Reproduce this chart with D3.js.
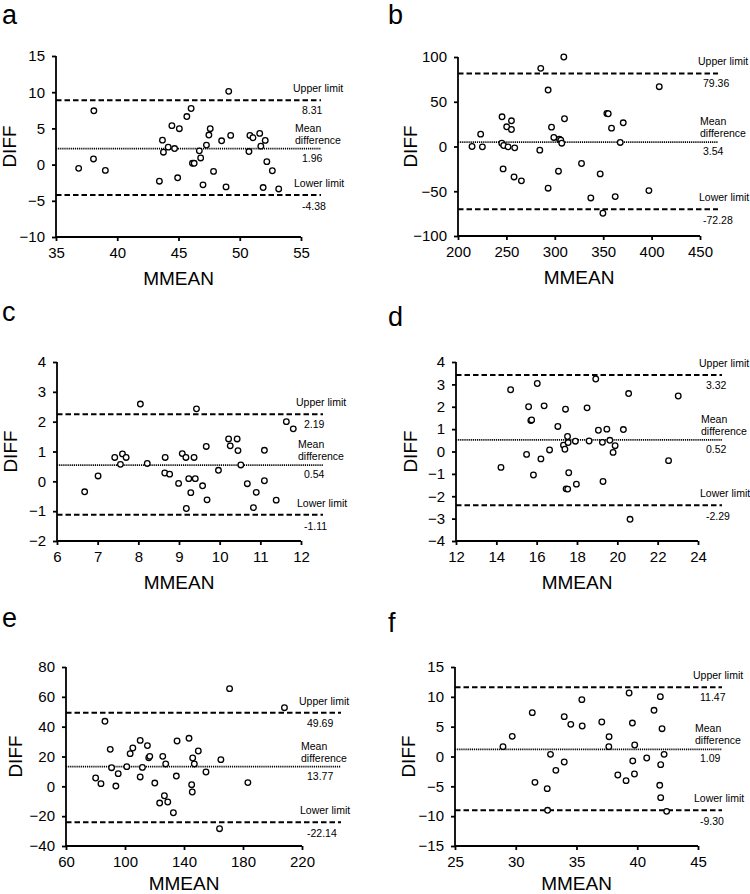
<!DOCTYPE html>
<html>
<head>
<meta charset="utf-8">
<script src="https://cdn.jsdelivr.net/npm/d3@7"></script>
<style>
  html, body { margin: 0; padding: 0; background: #fff; }
  svg { display: block; }
  text { font-family: "Liberation Sans", Arial, sans-serif; fill: #000; }
</style>
</head>
<body>
<svg id="chart" width="750" height="894"></svg>
<script>
// ---------- data ----------
const panelLetters = ["a", "b", "c", "d", "e", "f"];
const xTitle = "MMEAN";
const yTitle = "DIFF";
const limitTitles = ["Upper limit", "Mean", "difference", "Lower limit"];

// panel a
const aMean = [36.85, 38.09, 38.06, 39.03, 43.44, 43.69, 43.77, 44.16, 44.46, 44.68, 44.93, 45.07, 45.68, 46.03, 46.14, 46.28, 46.70, 46.81, 47.0, 47.28, 47.48, 47.59, 47.86, 48.52, 48.88, 49.10, 49.26, 50.75, 50.83, 51.08, 51.63, 51.72, 51.91, 52.08, 52.21, 52.66, 53.18];
const aDiff = [-0.52, 7.43, 0.78, -0.80, -2.29, 3.38, 1.71, 2.41, 5.38, 2.22, -1.82, 4.96, 6.64, 7.75, 0.18, 0.18, 1.90, 0.92, -2.80, 2.69, 4.08, 4.96, -0.94, 3.29, -3.08, 10.12, 4.03, 1.80, 4.03, 3.71, 4.31, 2.55, -3.17, 3.34, 0.41, -0.85, -3.36];
const aLimits = [8.9, 2.2, -4.2];
const aLimitLabels = ["8.31", "1.96", "-4.38"];
const aXTicks = [35, 40, 45, 50, 55];
const aYTicks = [-10, -5, 0, 5, 10, 15];

// panel b
const bMean = [214.5, 223.4, 225.2, 245.5, 245.2, 246.6, 247.2, 250.3, 251.7, 255.2, 255.2, 257.9, 258.6, 265.5, 284.5, 285.5, 293.1, 293.1, 296.6, 299.0, 303.8, 304.8, 306.2, 307.2, 309.3, 310.0, 327.6, 337.2, 346.9, 349.7, 353.8, 355.2, 358.6, 362.4, 367.6, 370.7, 397.2, 407.9];
const bDiff = [0.0, 13.8, -0.4, 33.2, 3.7, -25.0, 1.1, 22.0, -0.4, 28.7, 19.0, -34.0, -1.5, -38.4, -4.1, 87.3, 63.1, -46.6, 21.6, 10.1, -27.6, 8.2, 7.1, 3.7, 100, 31.0, -19.0, -57.5, -30.6, -74.6, 36.9, 36.6, 20.5, -56.0, 4.5, 26.5, -49.3, 66.8];
const bLimits = [81.6, 4.8, -70.1];
const bLimitLabels = ["79.36", "3.54", "-72.28"];
const bXTicks = [200, 250, 300, 350, 400, 450];
const bYTicks = [-100, -50, 0, 50, 100];

// panel c
const cMean = [6.68, 7.01, 7.42, 7.56, 7.61, 7.70, 8.05, 8.22, 8.66, 8.65, 8.77, 8.99, 9.08, 9.17, 9.18, 9.24, 9.29, 9.37, 9.40, 9.43, 9.58, 9.67, 9.69, 9.97, 10.22, 10.26, 10.43, 10.45, 10.52, 10.68, 10.83, 10.90, 11.10, 11.10, 11.39, 11.64, 11.81];
const cDiff = [-0.35, 0.18, 0.80, 0.57, 0.92, 0.80, 2.59, 0.60, 0.80, 0.28, 0.24, -0.07, 0.93, 0.80, -0.91, 0.09, -0.38, 0.80, 0.09, 2.43, -0.15, 1.17, -0.62, 0.37, 1.42, 1.19, 1.42, 1.03, 0.55, -0.08, -0.88, -0.37, 1.04, 0.02, -0.63, 2.00, 1.76];
const cLimits = [2.25, 0.54, -1.12];
const cLimitLabels = ["2.19", "0.54", "-1.11"];
const cXTicks = [6, 7, 8, 9, 10, 11, 12];
const cYTicks = [-2, -1, 0, 1, 2, 3, 4];

// panel d
const dMean = [14.23, 14.71, 15.50, 15.60, 15.71, 15.75, 15.84, 16.03, 16.21, 16.37, 16.64, 17.05, 17.33, 17.40, 17.43, 17.46, 17.54, 17.53, 17.56, 17.59, 17.92, 17.97, 18.50, 18.60, 18.93, 19.06, 19.26, 19.29, 19.48, 19.63, 19.79, 19.89, 20.30, 20.56, 20.63, 22.54, 23.02];
const dDiff = [-0.71, 2.76, -0.13, 2.00, 1.38, 1.41, -1.05, 3.04, -0.33, 2.04, 0.07, 1.12, 0.28, 0.10, 1.89, -1.67, -1.68, 0.67, 0.40, -0.95, 0.46, -1.46, 1.95, 0.47, 3.24, 0.95, 0.41, -1.34, 1.00, 0.50, -0.04, 0.26, 0.98, 2.59, -3.03, -0.41, 2.48];
const dLimits = [3.42, 0.52, -2.40];
const dLimitLabels = ["3.32", "0.52", "-2.29"];
const dXTicks = [12, 14, 16, 18, 20, 22, 24];
const dYTicks = [-4, -3, -2, -1, 0, 1, 2, 3, 4];

// panel e
const eMean = [80.1, 83.7, 86.4, 90.0, 90.9, 93.8, 95.4, 101.2, 103.5, 105.3, 110.3, 110.3, 111.8, 115.2, 116.1, 116.8, 120.2, 123.5, 125.6, 126.7, 127.6, 129.0, 132.8, 134.8, 135.3, 143.4, 145.2, 145.6, 145.9, 147.0, 149.7, 154.9, 164.1, 165.0, 170.9, 183.3, 208.1];
const eDiff = [5.6, 1.8, 43.6, 24.8, 12.5, 0.2, 8.5, 13.2, 21.9, 25.7, 6.3, 30.8, 12.7, 27.3, 19.2, 20.1, 2.2, -11.2, 20.1, -6.3, 15.0, -10.5, -17.7, 6.9, 30.4, 32.2, 1.1, -3.8, 19.0, 15.0, 23.7, 9.6, -28.4, 17.9, 65.5, 2.5, 52.7];
const eLimits = [49.4, 13.2, -24.1];
const eLimitLabels = ["49.69", "13.77", "-22.14"];
const eXTicks = [60, 100, 140, 180, 220];
const eYTicks = [-40, -20, 0, 20, 40, 60, 80];

// panel f
const fMean = [28.95, 29.71, 31.36, 31.58, 32.59, 32.62, 32.86, 33.30, 33.99, 33.99, 34.53, 35.44, 35.47, 37.08, 37.68, 37.66, 38.40, 39.08, 39.33, 39.60, 39.63, 39.77, 39.79, 40.78, 41.38, 41.85, 41.90, 41.93, 41.93, 42.04, 42.21, 42.42];
const fDiff = [1.65, 3.38, 7.35, -4.33, -5.39, -9.02, 0.36, -2.32, 6.68, -0.92, 5.39, 9.53, 5.11, 5.78, 3.32, 1.65, -3.10, -4.05, 10.64, 5.61, -0.75, -2.93, 1.93, -0.25, 7.74, -4.83, 10.03, -1.37, -6.90, 4.66, 0.36, -9.19];
const fLimits = [11.6, 1.2, -9.0];
const fLimitLabels = ["11.47", "1.09", "-9.30"];
const fXTicks = [25, 30, 35, 40, 45];
const fYTicks = [-15, -10, -5, 0, 5, 10, 15];

// ---------- layout (pixels) ----------
const panels = [
  { letter: panelLetters[0], mean: aMean, diff: aDiff, limits: aLimits, labels: aLimitLabels, xt: aXTicks, yt: aYTicks,
    L: 56, R: 301, T: 56, B: 237, lineEnd: 321, titleX: 293, numX: 302, letterX: 2, letterY: 24, yTitleOff: 47, xTitleOff: 48 },
  { letter: panelLetters[1], mean: bMean, diff: bDiff, limits: bLimits, labels: bLimitLabels, xt: bXTicks, yt: bYTicks,
    L: 458, R: 700, T: 57, B: 236, lineEnd: 718, titleX: 698, numX: 703, letterX: 388, letterY: 24, yTitleOff: 48, xTitleOff: 48 },
  { letter: panelLetters[2], mean: cMean, diff: cDiff, limits: cLimits, labels: cLimitLabels, xt: cXTicks, yt: cYTicks,
    L: 57, R: 301, T: 362, B: 541, lineEnd: 323, titleX: 296, numX: 304, letterX: 2, letterY: 321, yTitleOff: 47, xTitleOff: 48 },
  { letter: panelLetters[3], mean: dMean, diff: dDiff, limits: dLimits, labels: dLimitLabels, xt: dXTicks, yt: dYTicks,
    L: 456, R: 698, T: 362, B: 541, lineEnd: 722, titleX: 699, numX: 706, letterX: 388, letterY: 326, yTitleOff: 46, xTitleOff: 48 },
  { letter: panelLetters[4], mean: eMean, diff: eDiff, limits: eLimits, labels: eLimitLabels, xt: eXTicks, yt: eYTicks,
    L: 66, R: 302, T: 667, B: 846, lineEnd: 341, titleX: 299, numX: 307, letterX: 2, letterY: 627, yTitleOff: 51, xTitleOff: 44 },
  { letter: panelLetters[5], mean: fMean, diff: fDiff, limits: fLimits, labels: fLimitLabels, xt: fXTicks, yt: fYTicks,
    L: 455, R: 698, T: 667, B: 846, lineEnd: 722, titleX: 693, numX: 700, letterX: 388, letterY: 632, yTitleOff: 47, xTitleOff: 44 }
];

const svg = d3.select("#chart");

panels.forEach(p => {
  const x = d3.scaleLinear().domain([p.xt[0], p.xt[p.xt.length - 1]]).range([p.L, p.R]);
  const y = d3.scaleLinear().domain([p.yt[0], p.yt[p.yt.length - 1]]).range([p.B, p.T]);
  const g = svg.append("g");

  // panel letter
  g.append("text").attr("x", p.letterX).attr("y", p.letterY)
    .attr("font-size", 27).text(p.letter);

  // axes
  const xAxis = d3.axisBottom(x).tickValues(p.xt).tickSize(4).tickPadding(6).tickFormat(d3.format("d"));
  const yAxis = d3.axisLeft(y).tickValues(p.yt).tickSize(4).tickPadding(7).tickFormat(d3.format("d"));
  const gx = g.append("g").attr("transform", `translate(0,${p.B})`).call(xAxis);
  const gy = g.append("g").attr("transform", `translate(${p.L},0)`).call(yAxis);
  [gx, gy].forEach(ax => {
    ax.select(".domain").attr("stroke", "#000").attr("stroke-width", 1.8);
    ax.selectAll(".tick line").attr("stroke", "#000").attr("stroke-width", 1.8);
    ax.selectAll(".tick text").attr("font-size", 15).attr("font-family", "'Liberation Sans', Arial, sans-serif").attr("fill", "#000");
  });
  gx.select(".domain").attr("d", `M${p.L},0H${p.R}`);
  gy.select(".domain").attr("d", `M0,${p.B}V${p.T}`);

  // axis titles
  g.append("text").attr("x", (p.L + p.R) / 2).attr("y", p.B + p.xTitleOff)
    .attr("text-anchor", "middle").attr("font-size", 19).text(xTitle);
  g.append("text")
    .attr("transform", `translate(${p.L - p.yTitleOff},${(p.T + p.B) / 2}) rotate(-90)`)
    .attr("text-anchor", "middle").attr("dominant-baseline", "central")
    .attr("font-size", 19).text(yTitle);

  // limit lines
  p.limits.forEach((v, i) => {
    g.append("line")
      .attr("x1", p.L).attr("x2", p.lineEnd)
      .attr("y1", y(v)).attr("y2", y(v))
      .attr("stroke", "#000")
      .attr("stroke-width", i === 1 ? 1.8 : 2)
      .attr("stroke-dasharray", i === 1 ? "1.2,0.9" : "5.5,3");
  });

  // limit labels
  const yu = y(p.limits[0]), ym = y(p.limits[1]), yl = y(p.limits[2]);
  const lab = (tx, ty, s) => g.append("text").attr("x", tx).attr("y", ty).attr("font-size", 10.5).text(s);
  lab(p.titleX, yu - 8, limitTitles[0]);
  lab(p.numX, yu + 14, p.labels[0]);
  lab(p.titleX + 2, ym - 17, limitTitles[1]);
  lab(p.titleX + 2, ym - 5, limitTitles[2]);
  lab(p.numX, ym + 13, p.labels[1]);
  lab(p.titleX + 1, yl - 8, limitTitles[3]);
  lab(p.numX, yl + 15, p.labels[2]);

  // points
  g.selectAll("circle.pt").data(p.mean.map((m, i) => [m, p.diff[i]]))
    .enter().append("circle").attr("class", "pt")
    .attr("cx", d => x(d[0])).attr("cy", d => y(d[1]))
    .attr("r", 2.8)
    .attr("fill", "#fff").attr("stroke", "#000").attr("stroke-width", 1.3);
});
</script>
</body>
</html>
